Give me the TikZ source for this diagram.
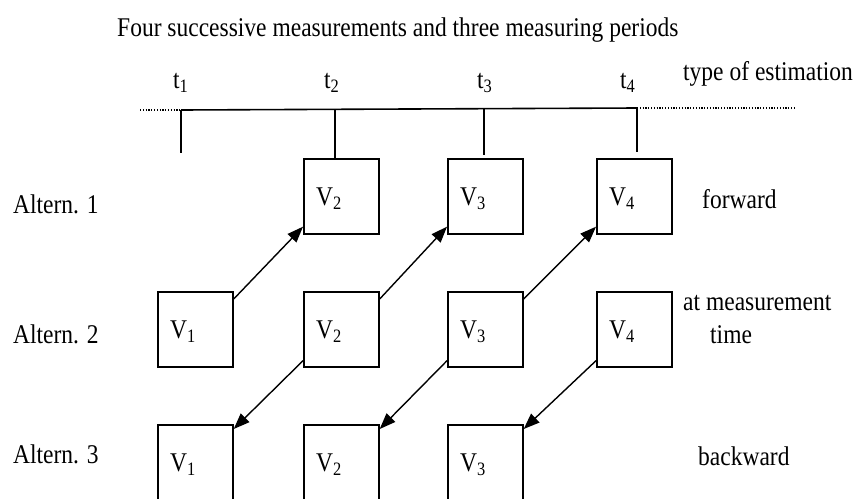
\documentclass[tikz,border=0pt]{standalone}
\usepackage{fontspec}
\setmainfont{Liberation Serif}
\usetikzlibrary{arrows.meta,calc}
\newcommand\stx[1]{\scalebox{1}[1.15]{#1}}
\begin{document}
\begin{tikzpicture}[x=1pt,y=-1pt,
  lbl/.style={anchor=base west,inner sep=0pt,font=\fontsize{23.5}{28}\selectfont},
  vbox/.style={draw,line width=1.7pt,minimum width=75pt,minimum height=75pt,inner sep=0pt,anchor=north west},
  conn/.style={line width=1.4pt,-{Triangle[length=16pt,width=12pt]}},
  tick/.style={line width=1.6pt},
  dots/.style={line width=1.2pt,dash pattern=on 1.2pt off 1.6pt}]
\useasboundingbox (0,0) rectangle (858,498);
\clip (0,0) rectangle (858,498);

% title and time labels
\node[lbl] (title) at (117,36) {\stx{Four successive measurements and three measuring periods}};
\node[lbl] (t1) at (173,88) {\stx{t\textsubscript{1}}};
\node[lbl] (t2) at (324,88) {\stx{t\textsubscript{2}}};
\node[lbl] (t3) at (477,88) {\stx{t\textsubscript{3}}};
\node[lbl] (t4) at (620,88) {\stx{t\textsubscript{4}}};
\node[lbl] (type) at (683,80) {\stx{type of estimation}};

% time axis
\coordinate (L0) at (140,110);
\coordinate (T1) at (181,110);
\coordinate (T4) at (637,108);
\coordinate (R0) at (795,108);
\coordinate (T2) at (335,109.5);
\coordinate (T3) at (484,109);
\coordinate (T1b) at (181,153);
\coordinate (T3b) at (484,155);
\coordinate (T4b) at (637,152);
\coordinate (T2b) at (335,158);
\draw[dots] (L0) -- (T1);
\draw[tick] (T1) -- (T4);
\draw[dots] (T4) -- (R0);
\draw[tick] (T1) -- (T1b);
\draw[tick] (T2) -- (T2b);
\draw[tick] (T3) -- (T3b);
\draw[tick] (T4) -- (T4b);

% row labels
\node[lbl] (a1) at (13,213) {\stx{Altern. 1}};
\node[lbl] (a2) at (13,343) {\stx{Altern. 2}};
\node[lbl] (a3) at (13,463) {\stx{Altern. 3}};
\node[lbl] (fw) at (702,208) {\stx{forward}};
\node[lbl] (am) at (683,310) {\stx{at measurement}};
\node[lbl] (tm) at (710,343) {\stx{time}};
\node[lbl] (bw) at (698,465) {\stx{backward}};

% boxes
\node[vbox] (b12) at (303,158) {};
\node[vbox] (b13) at (447,158) {};
\node[vbox] (b14) at (596,158) {};
\node[vbox] (b21) at (157,291) {};
\node[vbox] (b22) at (303,291) {};
\node[vbox] (b23) at (447,291) {};
\node[vbox] (b24) at (596,291) {};
\node[vbox] (b31) at (157,424) {};
\node[vbox] (b32) at (303,424) {};
\node[vbox] (b33) at (447,424) {};

\node[lbl] (v12) at ($(b12.west)+(13,9)$) {\stx{V\textsubscript{2}}};
\node[lbl] (v13) at ($(b13.west)+(13,9)$) {\stx{V\textsubscript{3}}};
\node[lbl] (v14) at ($(b14.west)+(13,9)$) {\stx{V\textsubscript{4}}};
\node[lbl] (v21) at ($(b21.west)+(13,9)$) {\stx{V\textsubscript{1}}};
\node[lbl] (v22) at ($(b22.west)+(13,9)$) {\stx{V\textsubscript{2}}};
\node[lbl] (v23) at ($(b23.west)+(13,9)$) {\stx{V\textsubscript{3}}};
\node[lbl] (v24) at ($(b24.west)+(13,9)$) {\stx{V\textsubscript{4}}};
\node[lbl] (v31) at ($(b31.west)+(13,9)$) {\stx{V\textsubscript{1}}};
\node[lbl] (v32) at ($(b32.west)+(13,9)$) {\stx{V\textsubscript{2}}};
\node[lbl] (v33) at ($(b33.west)+(13,9)$) {\stx{V\textsubscript{3}}};

% arrows
\draw[conn] ($(b21.north east)+(0,8)$) -- ($(b12.south west)+(0,-8)$);
\draw[conn] ($(b22.north east)+(0,8)$) -- ($(b13.south west)+(0,-8)$);
\draw[conn] ($(b23.north east)+(0,8)$) -- ($(b14.south west)+(0,-8)$);
\draw[conn] ($(b22.south west)+(0,-7)$) -- ($(b31.north east)+(0,5)$);
\draw[conn] ($(b23.south west)+(0,-7)$) -- ($(b32.north east)+(0,5)$);
\draw[conn] ($(b24.south west)+(0,-7)$) -- ($(b33.north east)+(0,5)$);
\end{tikzpicture}
\end{document}
